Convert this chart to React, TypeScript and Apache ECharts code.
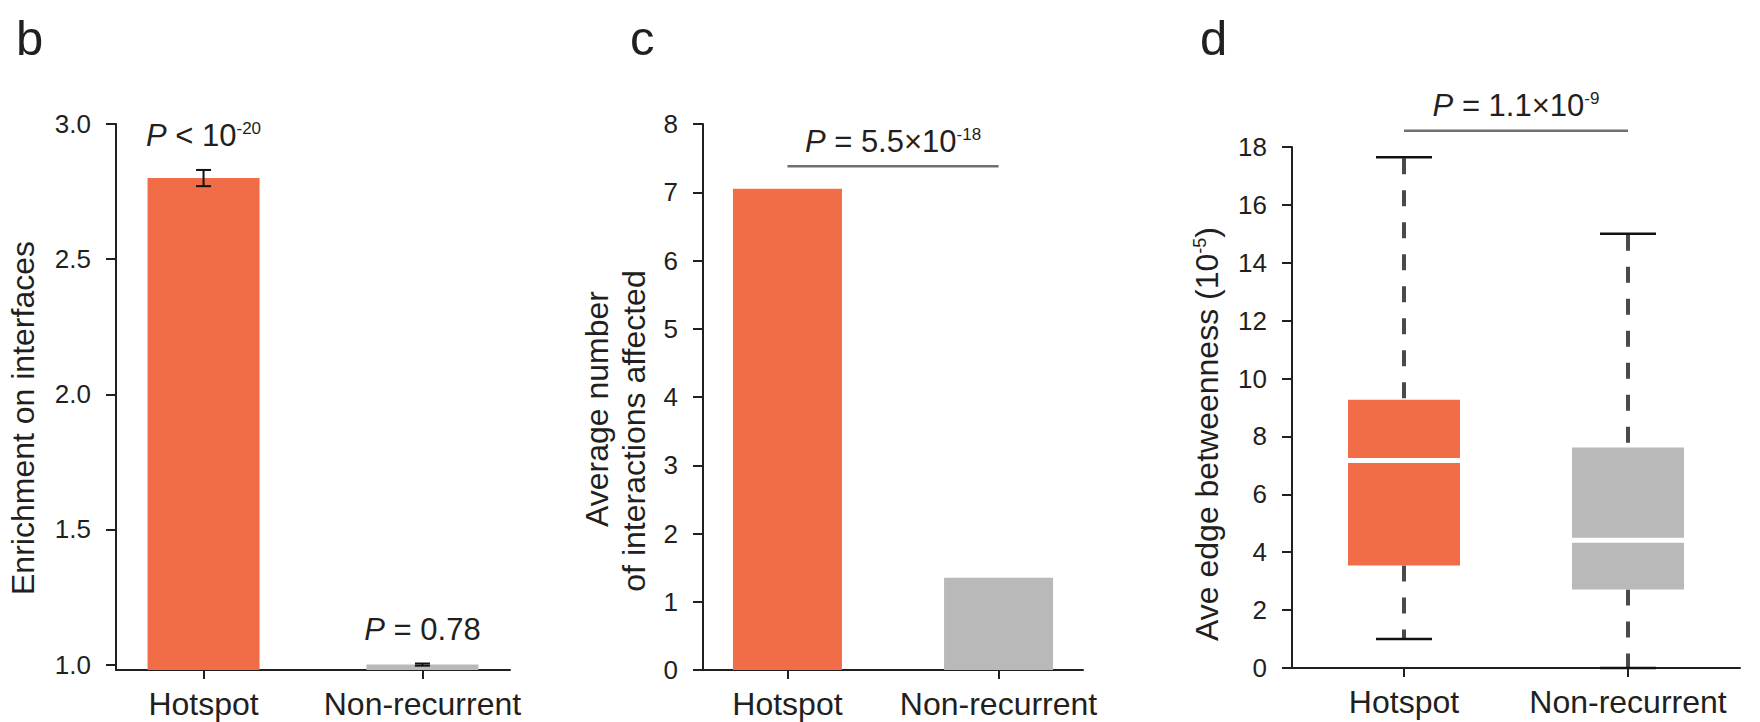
import React, { useEffect, useRef } from "react";
import * as echarts from "echarts";

// ---------- data ----------
const categories = ["Hotspot", "Non-recurrent"];

// panel b: enrichment on interfaces (mean, error)
const enrichmentMean = [2.8, 1.0];
const enrichmentErr = [0.03, 0.004];
const enrichmentTicks = [1.0, 1.5, 2.0, 2.5, 3.0];
const enrichmentP = [
  ["<", "10", "-20"],
  ["=", "0.78", ""],
];

// panel c: average number of interactions affected
const interactionsMean = [7.05, 1.35];
const interactionsBracket = [0, 1, 7.38];
const interactionsP = ["=", "5.5×10", "-18"];

// panel d: ave edge betweenness (10^-5): whisker low, Q1, median, Q3, whisker high
const betweennessHotspot = [1.0, 3.54, 7.17, 9.27, 17.65];
const betweennessNonRecurrent = [0.0, 2.71, 4.41, 7.62, 15.0];
const betweennessBracket = [0, 1, 18.56];
const betweennessP = ["=", "1.1×10", "-9"];

const panelLetters = ["b", "c", "d"];

// ---------- styles ----------
const FONT = '"Liberation Sans", Arial, Helvetica, sans-serif';
const TXT = "#231f20";
const ORANGE = "#F06D47";
const GREY = "#B9B9B9";
const WHISKER = "#4a4a4a";
const BRACKET = "#707070";
const barColors = [ORANGE, GREY];

const pText = (rel: string, base: string, exp: string) =>
  `{i|P} ${rel} ${base}` + (exp ? `{s|${exp}}` : "");

const richStyle = (text: string, fontSize = 31) => ({
  text,
  fontFamily: FONT,
  fontSize,
  fill: TXT,
  align: "center",
  verticalAlign: "middle",
  rich: {
    i: { fontFamily: FONT, fontSize, fontStyle: "italic", fill: TXT },
    s: { fontFamily: FONT, fontSize: 17, lineHeight: 20, verticalAlign: "top", fill: TXT },
  },
});

const axisLineStyle = { color: TXT, width: 2 };

function valueCatAxis(gridIndex: number) {
  return {
    gridIndex,
    type: "value",
    min: -0.4,
    max: 1.4,
    axisLine: { show: true, onZero: false, lineStyle: axisLineStyle },
    axisTick: { show: true, length: 9, lineStyle: axisLineStyle, customValues: [0, 1] },
    axisLabel: {
      color: TXT,
      fontFamily: FONT,
      fontSize: 32,
      margin: 18,
      customValues: [0, 1],
      formatter: (v: number) => categories[Math.round(v)] ?? "",
    },
    splitLine: { show: false },
  };
}

function yValueAxis(gridIndex: number, extra: any) {
  return {
    gridIndex,
    type: "value",
    axisLine: { show: true, onZero: false, lineStyle: axisLineStyle },
    axisTick: { show: true, length: 10, lineStyle: axisLineStyle },
    axisLabel: { color: TXT, fontFamily: FONT, fontSize: 26, margin: 25 },
    splitLine: { show: false },
    ...extra,
  };
}

export default function App() {
  const ref = useRef<HTMLDivElement>(null);

  useEffect(() => {
    if (!ref.current) return;
    const chart = echarts.init(ref.current, undefined, { renderer: "svg" });

    const bracketSeries = (xi: number, yi: number, bracket: number[], p: string[]) => ({
      type: "custom",
      xAxisIndex: xi,
      yAxisIndex: yi,
      z: 5,
      data: [bracket],
      renderItem: (_params: any, api: any) => {
        const a = api.coord([api.value(0), api.value(2)]);
        const b = api.coord([api.value(1), api.value(2)]);
        return {
          type: "group",
          children: [
            {
              type: "line",
              shape: { x1: a[0], y1: a[1], x2: b[0], y2: b[1] },
              style: { stroke: BRACKET, lineWidth: 2.5 },
            },
            {
              type: "text",
              x: (a[0] + b[0]) / 2,
              y: a[1] - 25,
              style: richStyle(pText(p[0], p[1], p[2])),
            },
          ],
        };
      },
    });

    const option: any = {
      animation: false,
      textStyle: { fontFamily: FONT },
      grid: [
        { left: 116, top: 124, width: 394, height: 546, outerBoundsMode: "none" },
        { left: 703, top: 124, width: 380, height: 546, outerBoundsMode: "none" },
        { left: 1292, top: 147, width: 448, height: 521, outerBoundsMode: "none" },
      ],
      xAxis: [
        valueCatAxis(0),
        valueCatAxis(1),
        {
          gridIndex: 2,
          type: "category",
          data: categories,
          boundaryGap: true,
          axisLine: { show: true, onZero: false, lineStyle: axisLineStyle },
          axisTick: { show: true, alignWithLabel: true, length: 9, lineStyle: axisLineStyle },
          axisLabel: { color: TXT, fontFamily: FONT, fontSize: 32, margin: 18, interval: 0 },
          splitLine: { show: false },
        },
      ],
      yAxis: [
        yValueAxis(0, {
          min: 0.98,
          max: 3,
          axisTick: { show: true, length: 10, lineStyle: axisLineStyle, customValues: enrichmentTicks },
          axisLabel: {
            color: TXT,
            fontFamily: FONT,
            fontSize: 26,
            margin: 25,
            customValues: enrichmentTicks,
            formatter: (v: number) => v.toFixed(1),
          },
        }),
        yValueAxis(1, { min: 0, max: 8, interval: 1 }),
        yValueAxis(2, { min: 0, max: 18, interval: 2 }),
      ],
      series: [
        // panel b bars
        {
          type: "bar",
          xAxisIndex: 0,
          yAxisIndex: 0,
          z: 2,
          barWidth: 112,
          data: enrichmentMean.map((v, i) => ({ value: [i, v], itemStyle: { color: barColors[i] } })),
        },
        // panel b error bars
        {
          type: "custom",
          xAxisIndex: 0,
          yAxisIndex: 0,
          z: 10,
          data: enrichmentMean.map((v, i) => [i, v, enrichmentErr[i]]),
          renderItem: (_params: any, api: any) => {
            const x = api.value(0);
            const v = api.value(1);
            const e = api.value(2);
            const top = api.coord([x, v + e]);
            const bot = api.coord([x, v - e]);
            const hw = 7.5;
            const st = { stroke: "#111", lineWidth: 2 };
            return {
              type: "group",
              children: [
                { type: "line", shape: { x1: top[0], y1: top[1], x2: bot[0], y2: bot[1] }, style: st },
                { type: "line", shape: { x1: top[0] - hw, y1: top[1], x2: top[0] + hw, y2: top[1] }, style: st },
                { type: "line", shape: { x1: bot[0] - hw, y1: bot[1], x2: bot[0] + hw, y2: bot[1] }, style: st },
              ],
            };
          },
        },
        // panel b p-values
        {
          type: "custom",
          xAxisIndex: 0,
          yAxisIndex: 0,
          z: 10,
          data: enrichmentMean.map((v, i) => [i, v + enrichmentErr[i]]),
          renderItem: (params: any, api: any) => {
            const p = api.coord([api.value(0), api.value(1)]);
            const t = enrichmentP[params.dataIndex];
            return { type: "text", x: p[0], y: p[1] - 34, style: richStyle(pText(t[0], t[1], t[2])) };
          },
        },
        // panel c bars
        {
          type: "bar",
          xAxisIndex: 1,
          yAxisIndex: 1,
          barWidth: 109,
          data: interactionsMean.map((v, i) => ({ value: [i, v], itemStyle: { color: barColors[i] } })),
        },
        bracketSeries(1, 1, interactionsBracket, interactionsP),
        // panel d boxplots
        {
          type: "custom",
          xAxisIndex: 2,
          yAxisIndex: 2,
          data: [
            [0, ...betweennessHotspot],
            [1, ...betweennessNonRecurrent],
          ],
          renderItem: (params: any, api: any) => {
            const idx = api.value(0);
            const lo = api.value(1);
            const q1 = api.value(2);
            const med = api.value(3);
            const q3 = api.value(4);
            const hi = api.value(5);
            const cx = api.coord([idx, med])[0];
            const y = (v: number) => api.coord([idx, v])[1];
            const bw = api.size([1, 0])[0] * 0.5;
            const cw = bw * 0.5;
            const dash = { stroke: WHISKER, lineWidth: 4, lineDash: [16, 16] };
            const cap = { stroke: "#111", lineWidth: 2.5 };
            return {
              type: "group",
              children: [
                { type: "line", shape: { x1: cx, y1: y(hi) + 1, x2: cx, y2: y(q3) }, style: dash },
                { type: "line", shape: { x1: cx, y1: y(q1), x2: cx, y2: y(lo) }, style: dash },
                {
                  type: "rect",
                  shape: { x: cx - bw / 2, y: y(q3), width: bw, height: y(q1) - y(q3) },
                  style: { fill: barColors[params.dataIndex] },
                },
                {
                  type: "line",
                  shape: { x1: cx - bw / 2, y1: y(med), x2: cx + bw / 2, y2: y(med) },
                  style: { stroke: "#ffffff", lineWidth: 5 },
                },
                { type: "line", shape: { x1: cx - cw / 2, y1: y(hi), x2: cx + cw / 2, y2: y(hi) }, style: cap },
                { type: "line", shape: { x1: cx - cw / 2, y1: y(lo), x2: cx + cw / 2, y2: y(lo) }, style: cap },
              ],
            };
          },
        },
        bracketSeries(2, 2, betweennessBracket, betweennessP),
      ],
      graphic: [
        { type: "text", x: 16, y: 38, style: { text: panelLetters[0], fontFamily: FONT, fontSize: 49, fill: TXT, align: "left", verticalAlign: "middle" } },
        { type: "text", x: 630, y: 38, style: { text: panelLetters[1], fontFamily: FONT, fontSize: 49, fill: TXT, align: "left", verticalAlign: "middle" } },
        { type: "text", x: 1200, y: 38, style: { text: panelLetters[2], fontFamily: FONT, fontSize: 49, fill: TXT, align: "left", verticalAlign: "middle" } },
        {
          type: "text",
          x: 23,
          y: 418,
          rotation: Math.PI / 2,
          style: { text: "Enrichment on interfaces", fontFamily: FONT, fontSize: 32, fill: TXT, align: "center", verticalAlign: "middle" },
        },
        {
          type: "text",
          x: 597,
          y: 409,
          rotation: Math.PI / 2,
          style: { text: "Average number", fontFamily: FONT, fontSize: 32, fill: TXT, align: "center", verticalAlign: "middle" },
        },
        {
          type: "text",
          x: 634,
          y: 431,
          rotation: Math.PI / 2,
          style: { text: "of interactions affected", fontFamily: FONT, fontSize: 32, fill: TXT, align: "center", verticalAlign: "middle" },
        },
        {
          type: "text",
          x: 1207,
          y: 434,
          rotation: Math.PI / 2,
          style: {
            text: "Ave edge betweenness (10{s|-5})",
            fontFamily: FONT,
            fontSize: 32,
            fill: TXT,
            align: "center",
            verticalAlign: "middle",
            rich: { s: { fontFamily: FONT, fontSize: 18, lineHeight: 20, verticalAlign: "top", fill: TXT } },
          },
        },
      ],
    };

    chart.setOption(option);
    return () => chart.dispose();
  }, []);

  return (
    <div
      ref={ref}
      style={{ position: "absolute", left: 0, top: 0, width: 1760, height: 722, background: "#fff" }}
    />
  );
}
